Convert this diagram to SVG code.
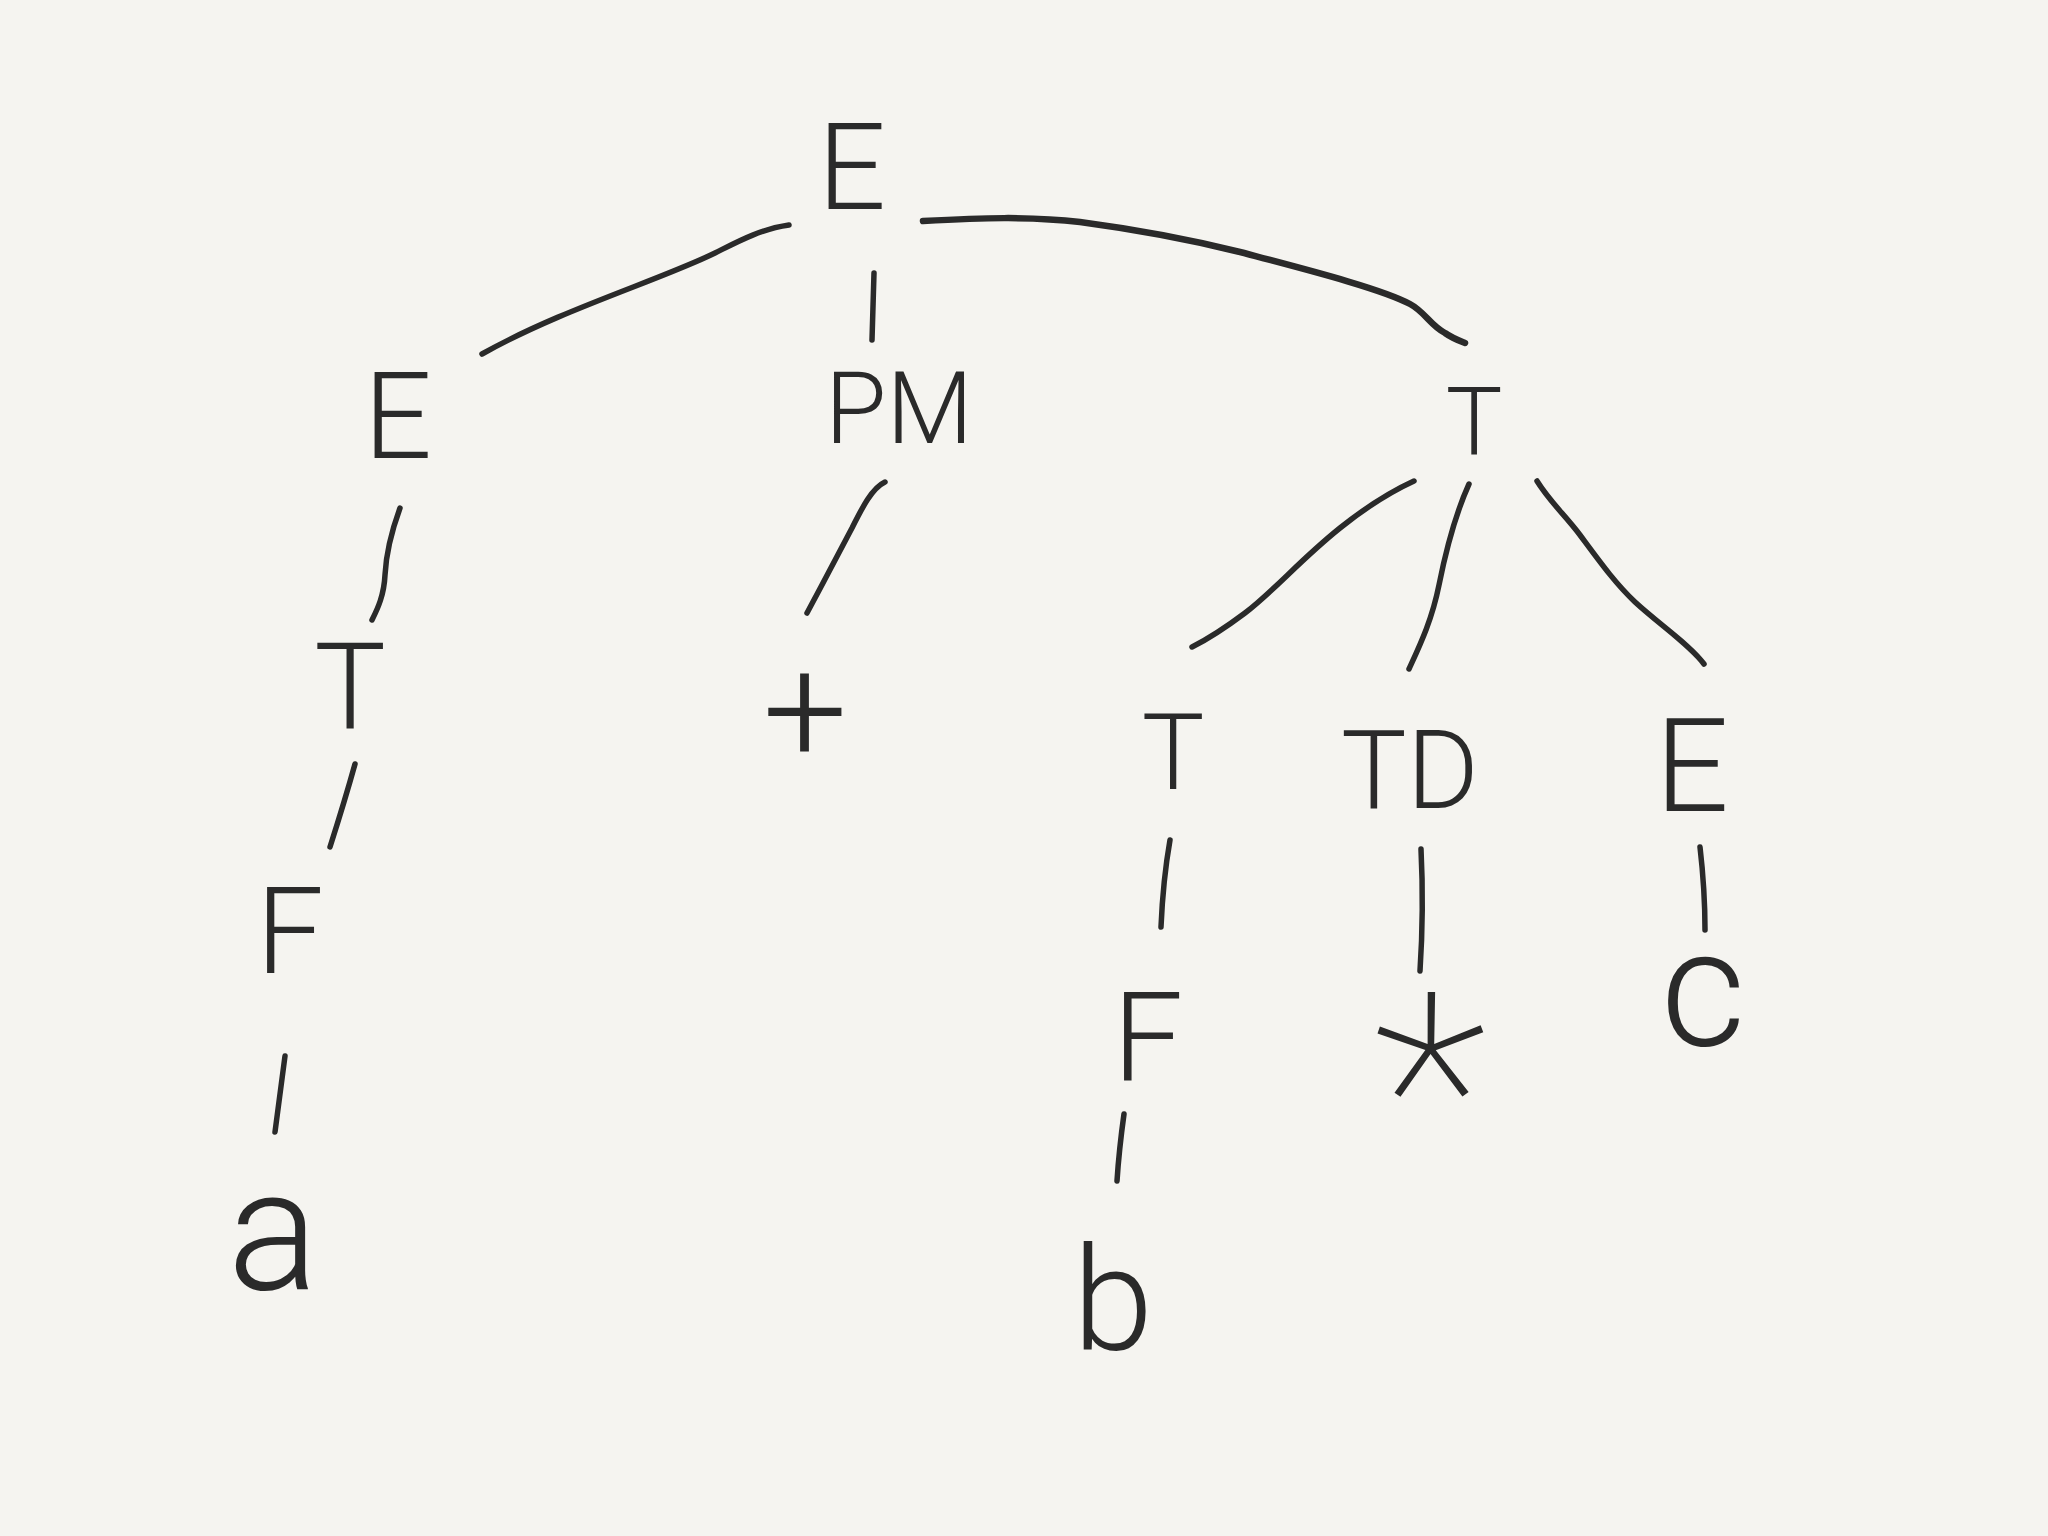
<svg xmlns="http://www.w3.org/2000/svg" width="2048" height="1536" viewBox="0 0 2048 1536">
<style>
.lbl{font-family:Roboto,"Open Sans","Liberation Sans",sans-serif;font-weight:300;fill:#2a2a2a;text-anchor:middle}
.edge{fill:none;stroke:#2a2a2a;stroke-width:5.5;stroke-linecap:round;stroke-linejoin:round}
</style>
<rect width="2048" height="1536" fill="#f5f4f0"/>
<g id="connectors">
<path class="edge" d="M789,225 C760,229 735,243 715,253 C660,280 560,310 482,354"/>
<path class="edge" d="M874,273 L872,340"/>
<path class="edge" style="stroke-width:6.5" d="M923,221 C980,218 1030,216 1080,222 C1140,230 1200,242 1240,252 C1300,268 1380,288 1410,304 C1425,312 1430,325 1445,333 C1452,338 1460,341 1465,343"/>
<path class="edge" d="M400,508 C392,530 386,555 385,575 C384,595 378,608 372,620"/>
<path class="edge" d="M355,764 Q345,800 330,847"/>
<path class="edge" d="M285,1056 Q280,1095 275,1132"/>
<path class="edge" d="M885,482 C872,488 862,508 852,528 C835,560 822,585 807,613"/>
<path class="edge" d="M1414,481 C1390,492 1365,508 1340,528 C1300,560 1275,590 1245,613 C1225,628 1210,638 1192,647"/>
<path class="edge" d="M1469,484 C1455,515 1446,550 1439,585 C1432,620 1420,645 1409,669"/>
<path class="edge" d="M1537,481 C1550,502 1565,515 1580,535 C1600,562 1615,583 1635,602 C1660,625 1690,645 1704,664"/>
<path class="edge" d="M1170,840 Q1163,880 1161,927"/>
<path class="edge" d="M1124,1114 Q1119,1150 1117,1181"/>
<path class="edge" d="M1421,849 Q1424,910 1420,971"/>
<path class="edge" d="M1700,847 Q1705,890 1705,930"/>
</g>
<g id="n-root"><text class="lbl" x="852" y="209" font-size="120">E</text></g>
<g id="n-E"><text class="lbl" x="398" y="458" font-size="120">E</text></g>
<g id="n-T1"><text class="lbl" x="350" y="729" font-size="120">T</text></g>
<g id="n-F1"><text class="lbl" x="290" y="973" font-size="120">F</text></g>
<g id="n-a"><text class="lbl" x="273" y="1289" font-size="170">a</text></g>
<g id="n-PM"><text class="lbl" x="899" y="443" font-size="100">PM</text></g>
<g id="n-plus"><text class="lbl" x="805" y="762" font-size="150">+</text></g>
<g id="n-T"><text class="lbl" x="1474" y="454" font-size="95">T</text></g>
<g id="n-T2"><text class="lbl" x="1173" y="789" font-size="105">T</text></g>
<g id="n-F2"><text class="lbl" x="1148" y="1080" font-size="125">F</text></g>
<g id="n-b"><text class="lbl" x="1113" y="1350" font-size="145">b</text></g>
<g id="n-TD"><text class="lbl" x="1410" y="808" font-size="110">TD</text></g>
<g id="n-star"><text class="lbl" x="1430" y="1184" font-size="270" style="font-weight:100">*</text></g>
<g id="n-E2"><text class="lbl" x="1692" y="811" font-size="130">E</text></g>
<g id="n-c"><text class="lbl" x="1703" y="1045" font-size="165">c</text></g>
</svg>
